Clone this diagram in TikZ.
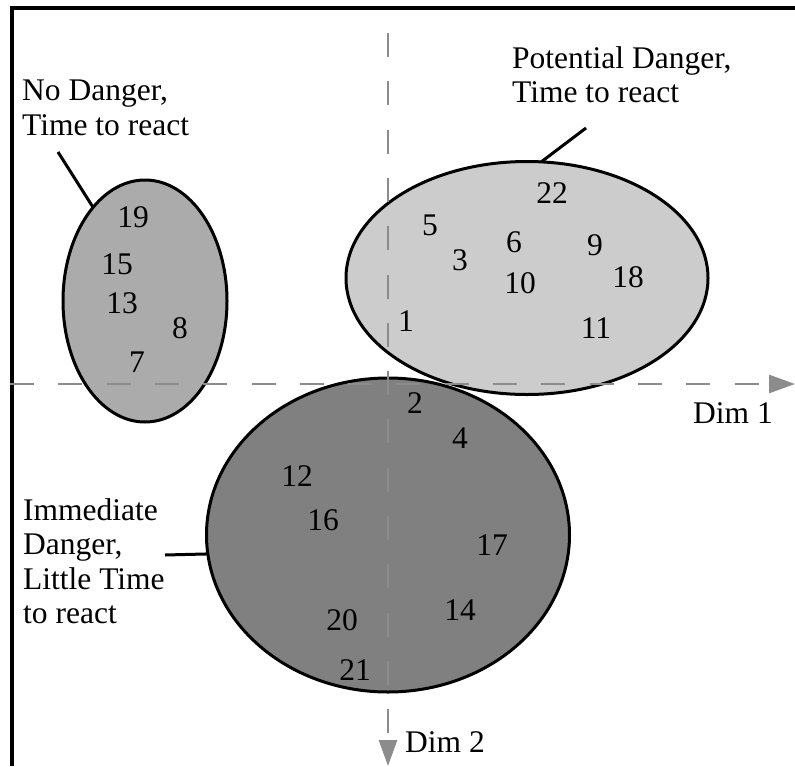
\documentclass[tikz,border=0pt]{standalone}
\usepackage{fontspec}
\setmainfont{Liberation Serif}
\usetikzlibrary{shapes.geometric,arrows.meta}

\definecolor{axisgray}{gray}{0.55}

\tikzset{
  region/.style={ellipse,draw=black,line width=3pt,inner sep=0pt,outer sep=0pt},
  axis/.style={draw=axisgray,line width=2.8pt,dash pattern=on 24pt off 24.3pt,
    -{Triangle[length=26pt,width=18pt,fill=axisgray]}},
  tag/.style={align=left,anchor=north west,inner sep=0pt},
  leader/.style={line width=3pt}
}

\begin{document}
\begin{tikzpicture}[x=1pt,y=-1pt,font=\fontsize{31.5}{34.5}\selectfont]
\useasboundingbox (0,0) rectangle (795,766);

% frame (left and top only)
\draw[line width=3.5pt] (12,766) -- (12,8) -- (795,8);

% clusters
\node[region,fill=black!33,minimum width=164pt,minimum height=242pt] (noDanger) at (145,301) {};
\node[region,fill=black!20,minimum width=362pt,minimum height=233pt] (potDanger) at (527,278) {};
\node[region,fill=black!50,minimum width=363pt,minimum height=314pt] (immDanger) at (388,535) {};

% axes
\coordinate (xStart) at (10,384);
\coordinate (xEnd) at (795,384);
\coordinate (yStart) at (388,33);
\coordinate (yEnd) at (388,766);
\draw[axis] (xStart) -- (xEnd);
\draw[axis] (yStart) -- (yEnd);
\node[anchor=center] (dimOne) at (733,413) {Dim 1};
\node[anchor=west,inner sep=0pt] (dimTwo) at (405,742) {Dim 2};

% labels and leaders
\node[tag] (tagNo) at (22,80) {No Danger,\\Time to react};
\node[tag] (tagPot) at (512,46) {Potential Danger,\\Time to react};
\node[tag] (tagImm) at (23,498) {Immediate\\Danger,\\Little Time\\to react};
\coordinate (leadNo) at (58,152);
\coordinate (leadPot) at (586,128);
\coordinate (leadImm) at (165,555);
\draw[leader] (leadNo) -- (noDanger.119);
\draw[leader] (leadPot) -- (potDanger.83);
\draw[leader] (leadImm) -- (immDanger.186);

% data points
\foreach \n/\x/\y in {19/133/217, 15/117/264, 13/122/303, 8/180/328, 7/137/362,
  22/552/193, 5/430/225, 6/514/242, 3/460/260, 9/595/245, 18/628/277,
  10/520/283, 1/406/321, 11/596/328,
  2/415/403, 4/460/438, 12/297/476, 16/323/520, 17/492/545,
  14/460/610, 20/342/620, 21/355/670}
  \node (pt\n) at (\x,\y) {\n};
\end{tikzpicture}
\end{document}
